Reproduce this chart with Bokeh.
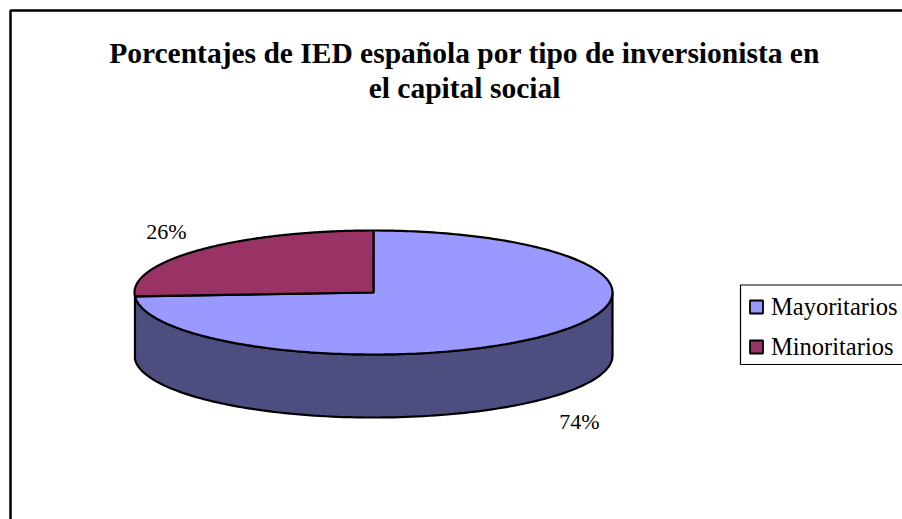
import math
from bokeh.plotting import figure
from bokeh.models import Range1d
from bokeh.core.properties import value
from bokeh.embed import file_html
from bokeh.resources import INLINE

categories = ["Mayoritarios", "Minoritarios"]
values = [74, 26]
labels = ["74%", "26%"]
title_lines = ["Porcentajes de IED española por tipo de inversionista en", "el capital social"]
top_colors = ["#9999FF", "#993366"]
side_color = "#4D4D80"

W, H = 902, 519
CX, CY, RX, RY, DEPTH = 373, 292, 239, 62, 63
FONT = value("Liberation Serif")

p = figure(width=W, height=H, output_backend="svg", toolbar_location=None,
           x_range=Range1d(0, W), y_range=Range1d(H, 0),
           min_border=0, outline_line_color=None)
p.axis.visible = False
p.grid.visible = False
p.background_fill_color = "white"
p.border_fill_color = "white"

# Chart-area frame: only top and left edges fall inside the picture
p.line([10, 10, W], [H, 10, 10], line_color="black", line_width=2.5)

def pt(theta, dy=0):
    return CX + RX * math.sin(theta), CY - RY * math.cos(theta) + dy

total = sum(values)
bounds = [0]
for v in values:
    bounds.append(bounds[-1] + v / total * 2 * math.pi)

# Side wall: the front half of the rim, from the right edge around to the slice boundary
a0, a1 = math.pi / 2, bounds[1]
steps = 120
arc = [a0 + (a1 - a0) * i / steps for i in range(steps + 1)]
xs = [pt(a)[0] for a in arc] + [pt(a, DEPTH)[0] for a in reversed(arc)]
ys = [pt(a)[1] for a in arc] + [pt(a, DEPTH)[1] for a in reversed(arc)]
p.patch(xs, ys, fill_color=side_color, line_color="black", line_width=2.2)

# Top slices
for i in range(len(values)):
    n = 240
    th = [bounds[i] + (bounds[i + 1] - bounds[i]) * k / n for k in range(n + 1)]
    sx = [CX] + [pt(a)[0] for a in th]
    sy = [CY] + [pt(a)[1] for a in th]
    p.patch(sx, sy, fill_color=top_colors[i], line_color="black", line_width=2.2)

# Title
for line, y in zip(title_lines, [52.5, 87]):
    p.text([464], [y], text=[line], text_font=FONT, text_font_style="bold",
           text_font_size="29.5px", text_align="center", text_baseline="middle", text_color="black")

# Data labels
for lab, x, y in zip(labels, [579, 166], [421, 231]):
    p.text([x], [y], text=[lab], text_font=FONT, text_font_size="22px",
           text_align="center", text_baseline="middle", text_color="black")

# Legend
p.quad(left=[740], right=[W + 5], top=[284.5], bottom=[364], fill_color="white",
       line_color="black", line_width=1.2)
for cat, col, y in zip(categories, top_colors, [306.5, 346.5]):
    p.rect([756], [y], width=13, height=13, fill_color=col, line_color="black", line_width=1.8)
    p.text([770.5], [y - 0.5], text=[cat], text_font=FONT, text_font_size="24.5px",
           text_align="left", text_baseline="middle", text_color="black")

open("out.html", "w").write(file_html(p, INLINE))
